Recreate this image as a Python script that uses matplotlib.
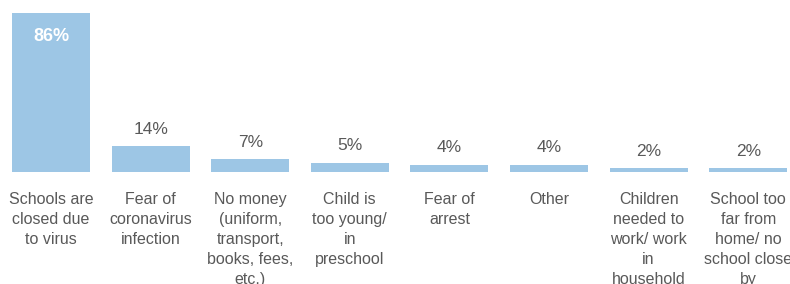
import matplotlib
matplotlib.use("Agg")
import matplotlib.pyplot as plt

categories = [
    "Schools are\nclosed due\nto virus",
    "Fear of\ncoronavirus\ninfection",
    "No money\n(uniform,\ntransport,\nbooks, fees,\netc.)",
    "Child is\ntoo young/\nin\npreschool",
    "Fear of\narrest",
    "Other",
    "Children\nneeded to\nwork/ work\nin\nhousehold",
    "School too\nfar from\nhome/ no\nschool close\nby",
]
values = [86, 14, 7, 5, 4, 4, 2, 2]
value_labels = ["86%", "14%", "7%", "5%", "4%", "4%", "2%", "2%"]

BAR_COLOR = "#9DC6E5"
TEXT_COLOR = "#595959"

plt.rcParams["font.family"] = ["Liberation Sans", "DejaVu Sans"]

W, H = 790, 284
fig = plt.figure(figsize=(W / 100, H / 100), dpi=100)

pitch = 99.6
first_center = 51
ax_left, ax_right = 0, W
ax_bottom_px, ax_top_px = 172, 13
ax = fig.add_axes([ax_left / W, (H - ax_bottom_px) / H,
                   (ax_right - ax_left) / W, (ax_bottom_px - ax_top_px) / H])
ax.set_xlim((ax_left - first_center) / pitch, (ax_right - first_center) / pitch)
ax.set_ylim(0, 86)

x = list(range(len(values)))
ax.bar(x, values, width=0.785, color=BAR_COLOR, edgecolor="none")

for i, (v, lab) in enumerate(zip(values, value_labels)):
    if i == 0:
        ax.annotate(lab, (i, v), xytext=(0, -20), textcoords="offset points",
                    ha="center", va="baseline", fontsize=13, color="white",
                    fontweight="bold")
    else:
        ax.annotate(lab, (i, v), xytext=(0, 9), textcoords="offset points",
                    ha="center", va="baseline", fontsize=12.5, color=TEXT_COLOR)

for i, cat in enumerate(categories):
    ax.annotate(cat, (i, 0), xycoords=("data", "axes fraction"),
                xytext=(0, -14.5), textcoords="offset points",
                ha="center", va="top", fontsize=11.5, color=TEXT_COLOR,
                linespacing=1.42, annotation_clip=False)

ax.axis("off")

fig.savefig("out.png", dpi=100)
